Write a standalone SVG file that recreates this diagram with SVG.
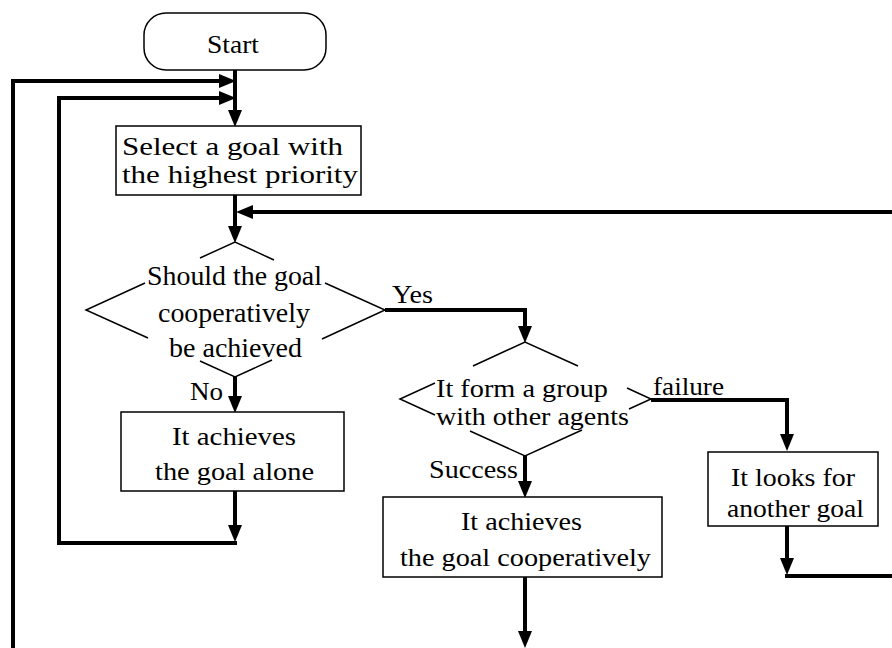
<svg xmlns="http://www.w3.org/2000/svg" width="892" height="648" viewBox="0 0 892 648">
<style>
  .bg{fill:#fff}
  .shape{fill:#fff;stroke:#000;stroke-width:1.5}
  .edge{fill:none;stroke:#000;stroke-width:1.5}
  .conn{fill:none;stroke:#000;stroke-width:4;stroke-linejoin:miter;stroke-linecap:butt}
  text{font-family:"Liberation Serif","Times New Roman",serif;fill:#000;font-size:25px}
  .d1{font-size:26.5px}
  .d2{font-size:26px}
</style>
<defs>
  <marker id="ah" markerUnits="userSpaceOnUse" markerWidth="17" markerHeight="14" viewBox="0 0 17 14" refX="0" refY="7" orient="auto">
    <path d="M0,0 L17,7 L0,14 z" fill="#000"/>
  </marker>
</defs>
<rect class="bg" x="0" y="0" width="892" height="648"/>

<g id="connectors">
  <path class="conn" d="M235,70 V110" marker-end="url(#ah)"/>
  <path class="conn" d="M13,648 V81 H219" marker-end="url(#ah)"/>
  <path class="conn" d="M235,491 V525" marker-end="url(#ah)"/>
  <path class="conn" d="M237,543 H59 V98 H219" marker-end="url(#ah)"/>
  <path class="conn" d="M235,195 V226" marker-end="url(#ah)"/>
  <path class="conn" d="M892,212 H253" marker-end="url(#ah)"/>
  <path class="conn" d="M385,310 H525 V326" marker-end="url(#ah)"/>
  <path class="conn" d="M235,377 V396" marker-end="url(#ah)"/>
  <path class="conn" d="M651,400 H787 V434" marker-end="url(#ah)"/>
  <path class="conn" d="M525,456 V481" marker-end="url(#ah)"/>
  <path class="conn" d="M787,526 V558" marker-end="url(#ah)"/>
  <path class="conn" d="M785,576 H892"/>
  <path class="conn" d="M525,577 V631" marker-end="url(#ah)"/>
</g>

<g id="start">
  <rect class="shape" x="144" y="13" width="182" height="57" rx="22" ry="22"/>
  <text x="207" y="53" textLength="52" lengthAdjust="spacingAndGlyphs" style="font-size:26px">Start</text>
</g>

<g id="select">
  <rect class="shape" x="116" y="126" width="245" height="69"/>
  <text x="122" y="155" textLength="221" lengthAdjust="spacingAndGlyphs">Select a goal with</text>
  <text x="122" y="183" textLength="236" lengthAdjust="spacingAndGlyphs">the highest priority</text>
</g>

<g id="decision1">
  <path class="edge" d="M200,258 L235,242 L274,260 M145,283 L86,310 L148,338 M325,283 L385,310 L322,339 M200,361 L235,377 L272,360"/>
  <text class="d1" x="147" y="285" textLength="175" lengthAdjust="spacingAndGlyphs">Should the goal</text>
  <text class="d1" x="158" y="322" textLength="152" lengthAdjust="spacingAndGlyphs">cooperatively</text>
  <text class="d1" x="169" y="357" textLength="133" lengthAdjust="spacingAndGlyphs">be achieved</text>
</g>

<g id="label-yes"><text x="392" y="303" textLength="41" lengthAdjust="spacingAndGlyphs">Yes</text></g>
<g id="label-no"><text x="190" y="400" textLength="33" lengthAdjust="spacingAndGlyphs">No</text></g>

<g id="alone">
  <rect class="shape" x="121" y="412" width="223" height="79"/>
  <text x="172" y="445" textLength="124" lengthAdjust="spacingAndGlyphs">It achieves</text>
  <text x="155" y="480" textLength="159" lengthAdjust="spacingAndGlyphs">the goal alone</text>
</g>

<g id="decision2">
  <path class="edge" d="M473,366 L525,342 L578,366 M435,383 L400,399 L435,415 M627,388 L651,399 L629,409 M470,431 L525,456 L582,430"/>
  <text class="d2" x="436" y="397" textLength="172" lengthAdjust="spacingAndGlyphs">It form a group</text>
  <text class="d2" x="436" y="425" textLength="193" lengthAdjust="spacingAndGlyphs">with other agents</text>
</g>

<g id="label-failure"><text x="653" y="395" textLength="71" lengthAdjust="spacingAndGlyphs">failure</text></g>
<g id="label-success"><text x="429" y="478" textLength="89" lengthAdjust="spacingAndGlyphs">Success</text></g>

<g id="coop">
  <rect class="shape" x="383" y="497" width="279" height="80"/>
  <text x="461" y="530" textLength="121" lengthAdjust="spacingAndGlyphs">It achieves</text>
  <text x="400" y="566" textLength="251" lengthAdjust="spacingAndGlyphs">the goal cooperatively</text>
</g>

<g id="another">
  <rect class="shape" x="708" y="452" width="170" height="74"/>
  <text x="731" y="486" textLength="124" lengthAdjust="spacingAndGlyphs">It looks for</text>
  <text x="727" y="517" textLength="137" lengthAdjust="spacingAndGlyphs">another goal</text>
</g>
</svg>
